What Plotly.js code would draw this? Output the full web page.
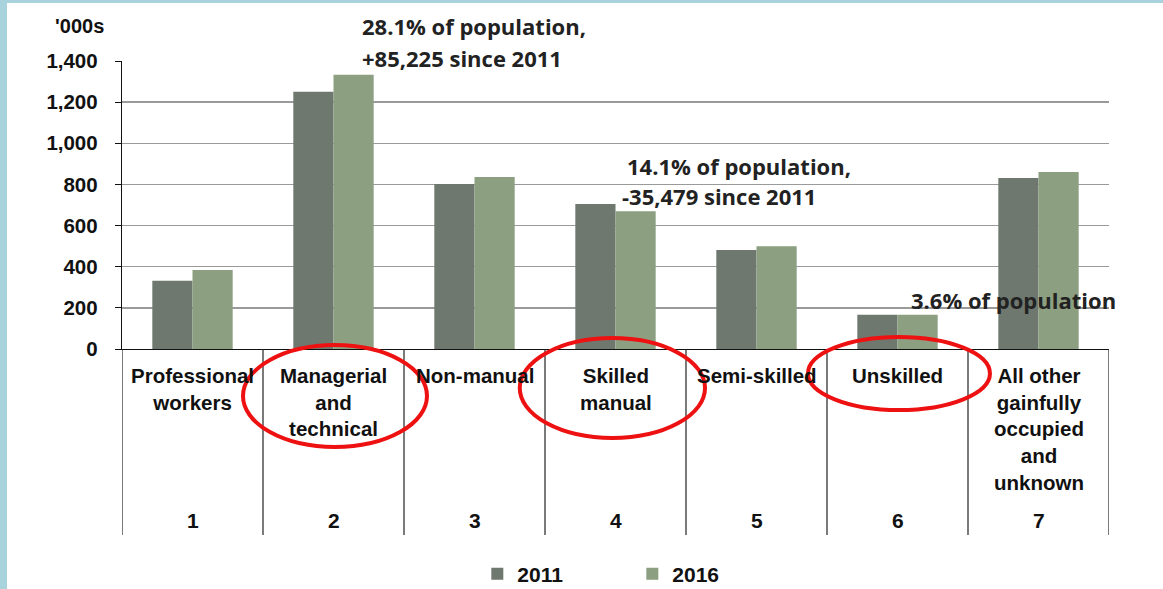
<!DOCTYPE html>
<html><head><meta charset="utf-8">
<script src="https://cdn.plot.ly/plotly-3.0.1.min.js"></script>
<style>
html,body{margin:0;padding:0;background:#a9d3dc;width:1163px;height:589px;overflow:hidden;}
#chart{position:absolute;left:7px;top:3px;width:1156px;height:586px;background:#fff;}
</style></head>
<body><div id="chart"></div>
<script>
const categoryKeys = ["1","2","3","4","5","6","7"];
const categoryNames = ["Professional<br>workers","Managerial<br>and<br>technical","Non-manual","Skilled<br>manual","Semi-skilled","Unskilled","All other<br>gainfully<br>occupied<br>and<br>unknown"];
const values2011 = [332, 1250, 802, 705, 481, 167, 831];
const values2016 = [384, 1333, 836, 670, 499, 167, 860];
const yTicks = [0, 200, 400, 600, 800, 1000, 1200, 1400];
const yTickLabels = ["0","200","400","600","800","1,000","1,200","1,400"];
const seriesNames = ["2011","2016"];

const AR = "Liberation Sans, Arial, sans-serif";
const CAL = "Open Sans, Lato, sans-serif";

const traces = [
  {type:"bar", name:seriesNames[0], x:categoryKeys, y:values2011, marker:{color:"#6f786e"}},
  {type:"bar", name:seriesNames[1], x:categoryKeys, y:values2016, marker:{color:"#8c9f80"}}
];

const shapes = [];
for (let i = 0; i <= categoryKeys.length; i++) {
  shapes.push({type:"line", xref:"x", yref:"paper", x0:i-0.5, x1:i-0.5, y0:0, y1:-0.646,
    line:{color:"#222", width:1.2}});
}
const ellipses = [[0.1226,0.309,-0.340,0.0139],[0.403,0.5907,-0.309,0.038],[0.695,0.8794,-0.212,0.0417]];
ellipses.forEach(e => shapes.push({type:"circle", xref:"paper", yref:"paper", x0:e[0], x1:e[1], y0:e[2], y1:e[3],
  line:{color:"#ee1111", width:4}, layer:"above"}));

const annotations = [];
categoryKeys.forEach((k, i) => {
  annotations.push({xref:"x", yref:"paper", x:i, y:-0.045, yanchor:"top", xanchor:"center", showarrow:false,
    text:categoryNames[i], align:"center", font:{family:AR, size:20.5, weight:700, color:"#111"}});
  annotations.push({xref:"x", yref:"paper", x:i, y:-0.594, yanchor:"middle", xanchor:"center", showarrow:false,
    text:k, font:{family:AR, size:21, weight:700, color:"#111"}});
});
const notes = [
  ["28.1% of population,", 0.2411, 1.121],
  ["+85,225 since 2011", 0.2411, 1.010],
  ["14.1% of population,", 0.5101, 0.635],
  ["-35,479 since 2011", 0.5050, 0.531],
  ["3.6% of population", 0.7970, 0.170]
];
notes.forEach(n => annotations.push({xref:"paper", yref:"paper", x:n[1], y:n[2], xanchor:"left", yanchor:"middle",
  showarrow:false, text:n[0], font:{family:CAL, size:22, weight:700, color:"#222"}}));
annotations.push({xref:"paper", yref:"paper", x:-0.016, y:1.122, xanchor:"right", yanchor:"middle", showarrow:false,
  text:"'000s", font:{family:AR, size:20, weight:700, color:"#111"}});

const layout = {
  width:1156, height:586,
  margin:{l:115, r:54, t:58, b:240},
  paper_bgcolor:"#fff", plot_bgcolor:"#fff",
  barmode:"group", bargap:0.43, bargroupgap:0,
  showlegend:true,
  legend:{orientation:"h", xref:"paper", yref:"container", x:0.36, xanchor:"left", y:0.0256, yanchor:"middle",
    font:{family:AR, size:21, weight:700, color:"#111"}, entrywidth:110, entrywidthmode:"pixels", itemwidth:30},
  xaxis:{type:"category", range:[-0.5,6.5], showticklabels:false, showline:true, linecolor:"#111", linewidth:1.2,
    ticks:"", showgrid:false, zeroline:false, fixedrange:true},
  yaxis:{range:[0,1400], tickvals:yTicks, ticktext:yTickLabels, showline:true, linecolor:"#111", linewidth:1.2,
    ticks:"outside", ticklen:6, tickcolor:"#111", gridcolor:"#9a9a9a", gridwidth:1.5, zeroline:false,
    ticklabelstandoff:13, tickfont:{family:AR, size:20.5, weight:700, color:"#111"}, fixedrange:true},
  shapes:shapes,
  annotations:annotations
};
Plotly.newPlot("chart", traces, layout, {displayModeBar:false, staticPlot:true});
</script></body></html>
